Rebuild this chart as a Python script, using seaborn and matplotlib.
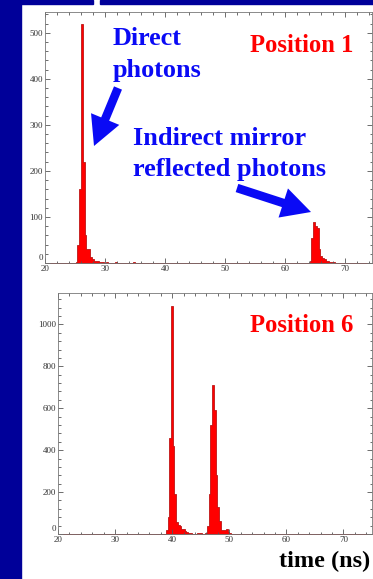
import numpy as np
import pandas as pd
import matplotlib
matplotlib.use("Agg")
import matplotlib.pyplot as plt
import seaborn as sns
from matplotlib.ticker import MultipleLocator, AutoMinorLocator, FuncFormatter
from matplotlib.patches import Rectangle, FancyArrowPatch

# ---------------- data (bin centres in ns, counts per 0.3 ns bin) ----------------
bin_width = 0.3

time_pos1 = [25.25, 25.55, 25.85, 26.15, 26.45, 26.75, 27.05, 27.35, 27.65, 27.95,
             28.25, 28.55, 28.85, 29.15, 29.45, 29.75, 30.35, 31.85, 34.85, 35.45,
             45.35, 48.65, 55.55, 60.65,
             64.25, 64.55, 64.85, 65.15, 65.45, 65.75, 66.05, 66.35, 66.65, 66.95,
             67.25, 67.55, 67.85, 68.15, 68.75]
count_pos1 = [3, 40, 160, 520, 220, 60, 30, 30, 12, 8,
              5, 5, 4, 3, 3, 2, 2, 2, 2, 1,
              1, 1, 1, 1,
              5, 55, 88, 80, 75, 30, 15, 10, 8, 5,
              4, 3, 2, 3, 1]

time_pos6 = [39.05, 39.35, 39.65, 39.95, 40.25, 40.55, 40.85, 41.15, 41.45, 41.75,
             42.05, 42.35, 42.65, 42.95, 43.25, 44.45, 44.75, 45.05,
             45.95, 46.25, 46.55, 46.85, 47.15, 47.45, 47.75, 48.05, 48.35, 48.65,
             48.95, 49.25, 49.55, 49.85, 50.15, 50.75, 51.55, 54.55, 59.45]
count_pos6 = [20, 80, 460, 1090, 420, 190, 55, 45, 40, 25,
              22, 15, 10, 5, 3, 5, 5, 3,
              5, 40, 190, 520, 710, 590, 280, 130, 60, 20,
              18, 20, 22, 8, 3, 2, 2, 1, 1]

panel_labels = ["Position 1", "Position 6"]
x_label = "time (ns)"
annot_direct = ["Direct", "photons"]
annot_indirect = ["Indirect mirror", "reflected photons"]

# ---------------- figure ----------------
W, H = 373, 579
fig = plt.figure(figsize=(W / 100, H / 100), dpi=100)
fig.patch.set_facecolor("white")
NAVY = "#000099"
BLUE = "#0a0af5"
RED = "#ff0000"
SERIF = ["Liberation Serif", "DejaVu Serif"]
TICK_FS = 6.5


def fx(x):
    return x / W


def fy(y):
    return 1 - y / H


# background strips
fig.patches.append(Rectangle((0, 0), fx(21), 1, transform=fig.transFigure,
                             color=NAVY, zorder=0))
fig.patches.append(Rectangle((0, fy(4)), fx(93), 4 / H, transform=fig.transFigure,
                             color=NAVY, zorder=0))
fig.patches.append(Rectangle((fx(100), fy(4)), 1 - fx(100), 4 / H,
                             transform=fig.transFigure, color=NAVY, zorder=0))


def make_axes(left, top, right, bottom):
    return fig.add_axes([fx(left), fy(bottom), fx(right) - fx(left), (bottom - top) / H])


ax1 = make_axes(45, 12, 372, 263)
ax2 = make_axes(58, 293, 372, 534)

datasets = [
    (ax1, time_pos1, count_pos1, (20, 74.5), (0, 545), 100),
    (ax2, time_pos6, count_pos6, (20, 75.0), (0, 1150), 200),
]

for ax, t, c, xl, yl, ymaj in datasets:
    df = pd.DataFrame({"time": t, "count": c})
    edges = [round(20 + i * bin_width, 4) for i in range(int(55 / bin_width) + 2)]
    sns.histplot(data=df, x="time", weights="count", bins=edges, ax=ax,
                 element="step", fill=True, color=RED, alpha=1,
                 edgecolor="#b00000", linewidth=0.5)
    ax.set_xlim(*xl)
    ax.set_ylim(*yl)
    ax.set_xlabel("")
    ax.set_ylabel("")
    ax.set_facecolor("white")
    ax.xaxis.set_major_locator(MultipleLocator(10))
    ax.xaxis.set_minor_locator(AutoMinorLocator(5))
    ax.yaxis.set_major_locator(MultipleLocator(ymaj))
    ax.yaxis.set_minor_locator(AutoMinorLocator(5))
    ax.yaxis.set_major_formatter(FuncFormatter(lambda v, p: "" if v == 0 else f"{v:g}"))
    ax.tick_params(which="both", direction="in", top=True, right=True,
                   colors="#555555", labelcolor="#333333", width=0.6)
    ax.tick_params(which="major", length=3.5, labelsize=TICK_FS, pad=1.5)
    ax.tick_params(which="minor", length=1.8)
    for lab in ax.get_xticklabels() + ax.get_yticklabels():
        lab.set_family(SERIF)
    for s in ax.spines.values():
        s.set_color("#777777")
        s.set_linewidth(0.6)
    # ROOT-style raised "0" label on the y axis
    ax.annotate("0", xy=(0, 0), xycoords="axes fraction", xytext=(-1.5, 0.5),
                textcoords="offset points", ha="right", va="bottom",
                fontsize=TICK_FS, family=SERIF, color="#333333")

# ---------------- annotations ----------------
def ftext(x, y, s, color, size, ha="left"):
    fig.text(fx(x), fy(y), s, color=color, fontsize=size, fontweight="bold",
             family=SERIF, ha=ha, va="baseline", zorder=10)


ftext(113, 45, annot_direct[0], BLUE, 18.8)
ftext(113, 77, annot_direct[1], BLUE, 18.8)
ftext(250, 52, panel_labels[0], RED, 17.7)
ftext(133, 145, annot_indirect[0], BLUE, 18.9)
ftext(133, 176, annot_indirect[1], BLUE, 18.9)
ftext(250, 332, panel_labels[1], RED, 17.7)
ftext(370, 567, x_label, "black", 17.5, ha="right")


def farrow(x0, y0, x1, y1):
    a = FancyArrowPatch((fx(x0), fy(y0)), (fx(x1), fy(y1)),
                        transform=fig.transFigure,
                        arrowstyle="simple,head_width=22,head_length=21,tail_width=6.2",
                        mutation_scale=1, color=BLUE, lw=0, zorder=11,
                        shrinkA=0, shrinkB=0)
    fig.patches.append(a)


farrow(118, 88, 94, 146)
farrow(237, 188, 311, 212)

fig.savefig("out.png", dpi=100, facecolor=fig.get_facecolor())
